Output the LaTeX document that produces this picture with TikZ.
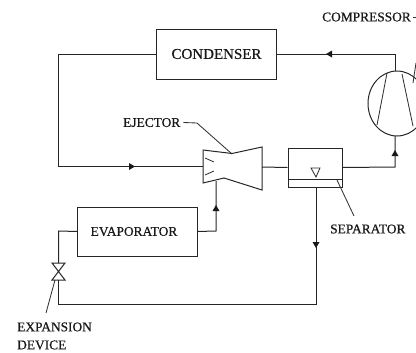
\documentclass[tikz,border=0pt]{standalone}
\usepackage{fontspec}
\setmainfont{Liberation Serif}
\newfontfamily\labfont[FakeBold=0.6]{Liberation Serif}
\usetikzlibrary{arrows.meta,calc}
\tikzset{
  line/.style={draw=black!85,line width=1bp},
  thin line/.style={draw=black!80,line width=0.85bp},
  unit/.style={draw=black!85,line width=1bp,rectangle,minimum width=#1,inner sep=0pt},
  lab/.style={font=\labfont\fontsize{13.4bp}{18bp}\selectfont,text=black!90,inner sep=0pt,anchor=west},
  tip/.style={fill=black!90,draw=none},
}
\begin{document}
\begin{tikzpicture}[x=1bp,y=-1bp]
\useasboundingbox (0,0) rectangle (416,353);
\clip (0,0) rectangle (416,353);
% units
\node[unit=119bp,minimum height=50bp,lab,anchor=center,font=\labfont\fontsize{15bp}{18bp}\selectfont] (cond) at (216.5,54) {CONDENSER};
\node[unit=119bp,minimum height=49bp,lab,anchor=center] (evap) at (137.5,231.5) {\hspace*{-7bp}EVAPORATOR};
% compressor
\draw[line] (397,103.5) ellipse [x radius=29,y radius=32.5];
\coordinate (compT) at (395,71);
\coordinate (compB) at (395,136);
\draw[thin line] (387,73) -- (377,125);
\draw[thin line] (402,74) -- (413,126);
% ejector
\coordinate (ejIn) at (203,166.5);
\coordinate (ejOut) at (262,167);
\coordinate (ejSuc) at (216,181);
\draw[line] (203,150) -- (232,153.5) -- (262,147) -- (262,190) -- (224,178) -- (203,183) -- cycle;
\draw[thin line] (205,158) -- (214,162);
\draw[thin line] (205,175) -- (214,171);
% separator
\node[unit=54bp,minimum height=39bp] (sep) at (315,167.5) {};
\draw[line] ($(sep.west)+(0,11.5)$) -- ($(sep.east)+(0,11.5)$);
\draw[thin line] (311,168) -- (320,168) -- (316,177) -- cycle;
% valve
\coordinate (vT) at (58.5,263);
\coordinate (vB) at (58.5,280);
\draw[line] (52,263) -- (65,263) -- (52,280) -- (65,280) -- cycle;
% pipes
\coordinate (c1) at (395,54);
\coordinate (c2) at (58,54);
\coordinate (c3) at (58,166.5);
\coordinate (c4) at (395,167);
\coordinate (c5) at (216,231);
\coordinate (c6) at (58.5,231);
\coordinate (c7) at (316,304.5);
\coordinate (c8) at (58.5,304.5);
\draw[line] (compT) -- (c1) -- (cond.east);
\draw[line] (cond.west) -- (c2) -- (c3) -- (ejIn);
\draw[line] (ejOut) -- (sep.west);
\draw[line] (sep.east) -- (c4) -- (compB);
\draw[line] (evap.east) -- (c5) -- (ejSuc);
\draw[line] (evap.west) -- (c6) -- (vT);
\draw[line] (sep.south -| c7) -- (c7) -- (c8) -- (vB);
% arrowheads
\fill[tip] (326,54) -- (332,50.5) -- (332,57.5) -- cycle;
\fill[tip] (135,166.5) -- (129,163) -- (129,170) -- cycle;
\fill[tip] (395,150) -- (391.5,156) -- (398.5,156) -- cycle;
\fill[tip] (216,205) -- (212.5,211) -- (219.5,211) -- cycle;
\fill[tip] (316,248) -- (312.5,242) -- (319.5,242) -- cycle;
% labels
\node[lab] (lcomp) at (322,17) {COMPRESSOR};
\node[lab] (lej) at (123,122.5) {EJECTOR};
\node[lab] (lsep) at (330,229) {SEPARATOR};
\node[lab,align=left] (lexp) at (17,336) {EXPANSION\\DEVICE};
% leaders
\coordinate (a1) at (197,123);
\coordinate (a2) at (232,154);
\coordinate (a3) at (416,63);
\coordinate (a4) at (413,83);
\coordinate (a5) at (337,180);
\coordinate (a6) at (354,216);
\coordinate (a7) at (55,280);
\coordinate (a8) at (46,313);
\draw[thin line] (lej.east)+(3,0) -- (a1) -- (a2);
\draw[thin line] (lcomp.east)+(2,0) -- +(6,0);
\draw[thin line] (a3) -- (a4);
\draw[thin line] (a5) -- (a6);
\draw[thin line] (a7) -- (a8);
\end{tikzpicture}
\end{document}
